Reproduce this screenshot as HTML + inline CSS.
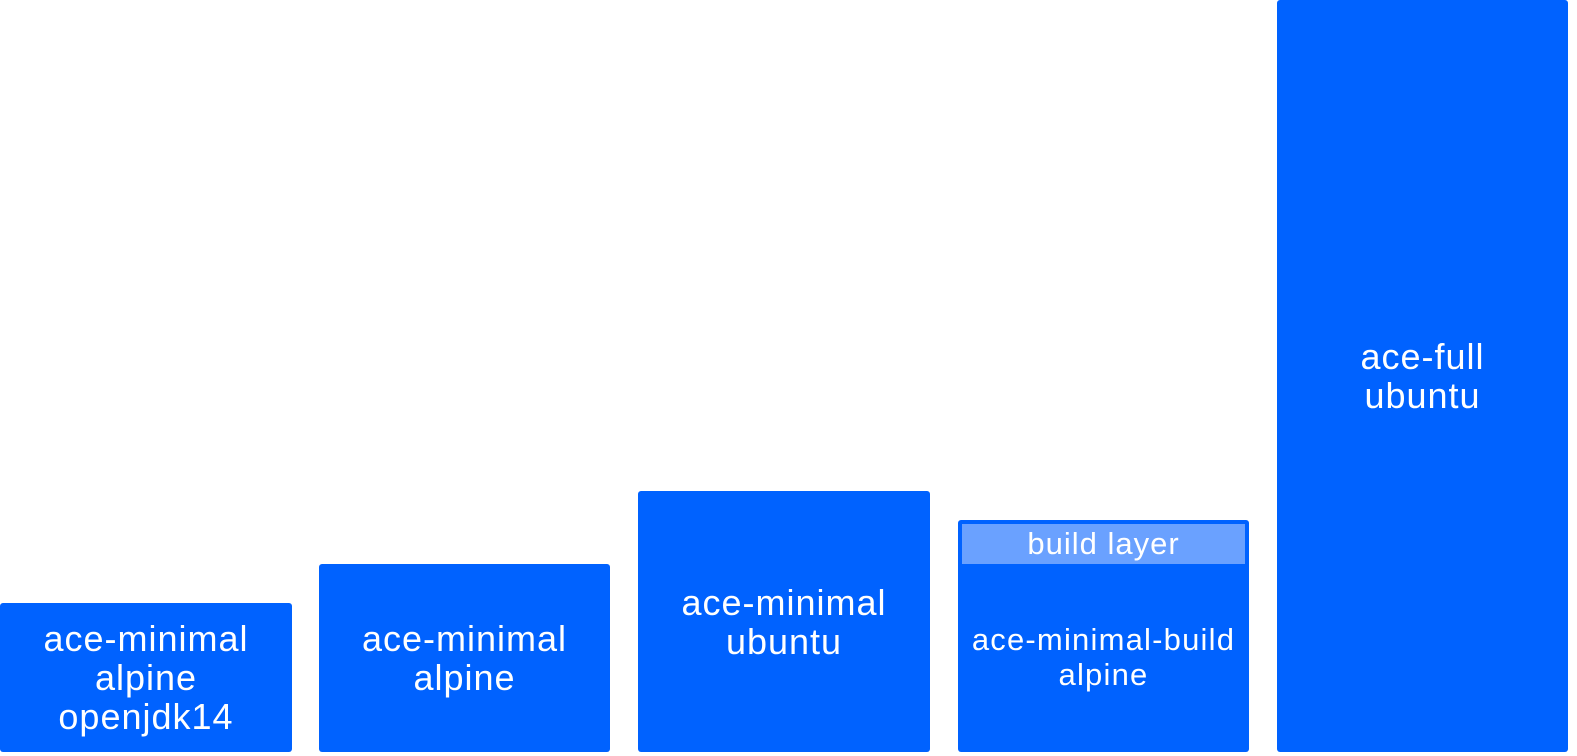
<!DOCTYPE html>
<html><head><style>
body{margin:0;width:1577px;height:756px;background:#fff;position:relative;overflow:hidden;font-family:"Liberation Sans",sans-serif;}
.b{position:absolute;background:#0062ff;border-radius:3px;color:#fff;display:flex;align-items:center;justify-content:center;text-align:center;font-size:36px;letter-spacing:1px;line-height:39px;}
.l{position:absolute;background:#6aa1ff;color:#fff;font-size:31px;letter-spacing:1px;display:flex;align-items:center;justify-content:center;}
</style></head><body>
<div class="b" style="left:0;top:603px;width:292px;height:149px;">ace-minimal<br>alpine<br>openjdk14</div>
<div class="b" style="left:319px;top:564px;width:291px;height:188px;">ace-minimal<br>alpine</div>
<div class="b" style="left:638px;top:491px;width:292px;height:261px;">ace-minimal<br>ubuntu</div>
<div class="b" style="left:958px;top:520px;width:291px;height:232px;font-size:31px;letter-spacing:1.2px;line-height:35px;padding-top:42px;box-sizing:border-box;">ace-minimal-build<br>alpine</div>
<div class="l" style="left:962px;top:524px;width:283px;height:40px;">build layer</div>
<div class="b" style="left:1277px;top:0;width:291px;height:752px;">ace-full<br>ubuntu</div>
</body></html>
